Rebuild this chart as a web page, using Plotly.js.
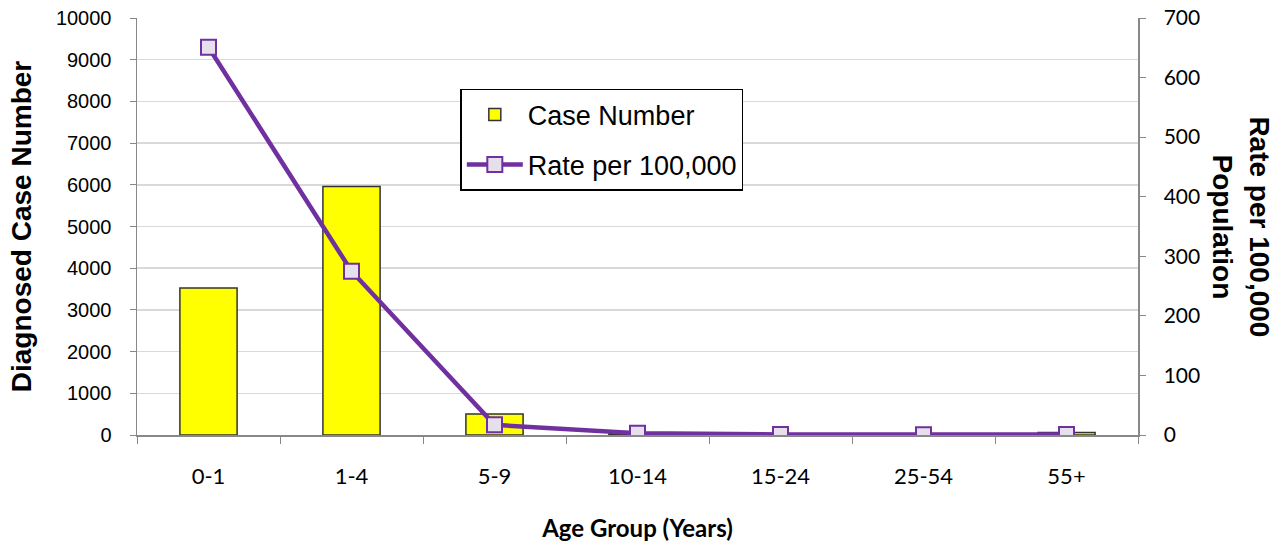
<!DOCTYPE html>
<html>
<head>
<meta charset="utf-8">
<script src="https://cdn.plot.ly/plotly-3.0.1.min.js"></script>
<style>body{margin:0;padding:0;background:#fff}#chart{width:1284px;height:546px}</style>
</head>
<body>
<div id="chart"></div>
<script>
var categories = ["0-1", "1-4", "5-9", "10-14", "15-24", "25-54", "55+"];
var caseNumbers = [3525, 5960, 505, 30, 20, 30, 60];
var ratePer100k = [651, 275, 17, 3, 1, 0.5, 1];
var leftTicks = [0, 1000, 2000, 3000, 4000, 5000, 6000, 7000, 8000, 9000, 10000];
var leftTickText = ["0", "1000", "2000", "3000", "4000", "5000", "6000", "7000", "8000", "9000", "10000"];
var rightTicks = [0, 100, 200, 300, 400, 500, 600, 700];

var traces = [
  {
    type: "bar", name: "Case Number", x: categories, y: caseNumbers,
    marker: {color: "#FFFF00", line: {color: "#333333", width: 1.5}},
    width: 0.4, yaxis: "y", legendgroup: "a"
  },
  {
    type: "scatter", mode: "lines+markers", name: "Rate per 100,000",
    x: categories, y: ratePer100k, yaxis: "y2", legendgroup: "b",
    line: {color: "#7030A0", width: 4.5},
    marker: {symbol: "square", size: 15, color: "#E6E0EC", line: {color: "#7030A0", width: 2}}
  }
];

var layout = {
  width: 1284, height: 546,
  margin: {l: 137, r: 146, t: 18, b: 111},
  paper_bgcolor: "#fff", plot_bgcolor: "#fff",
  showlegend: true,
  legend: {
    x: 0.323, y: 0.83, xanchor: "left", yanchor: "top",
    bordercolor: "#000", borderwidth: 1.5, bgcolor: "#fff",
    font: {family: "Liberation Sans, Arial, sans-serif", size: 27, color: "#000"},
    itemwidth: 56, tracegroupgap: 12
  },
  xaxis: {
    type: "category", tickson: "boundaries", ticks: "outside", ticklen: 7, tickcolor: "#888",
    showline: true, linecolor: "#888", linewidth: 1.5, showgrid: false,
    tickfont: {family: "Lato, Open Sans, sans-serif", size: 22, color: "#000"},
    ticklabelstandoff: 21,
    title: {text: "<b>Age Group (Years)</b>", font: {family: "Lato, Open Sans, sans-serif", size: 24, color: "#000"}, standoff: 32}
  },
  yaxis: {
    range: [0, 10000], tickvals: leftTicks, ticktext: leftTickText, ticks: "outside", ticklen: 6, tickcolor: "#888",
    showline: true, linecolor: "#888", linewidth: 1.5,
    showgrid: true, gridcolor: "#D9D9D9", gridwidth: 1.5, zeroline: false,
    tickfont: {family: "Liberation Sans, Arial, sans-serif", size: 20, color: "#000"},
    ticklabelstandoff: 14,
    title: {text: "<b>Diagnosed Case Number</b>", font: {family: "Liberation Sans, Arial, sans-serif", size: 28, color: "#000"}, standoff: 16}
  },
  yaxis2: {
    overlaying: "y", side: "right", range: [0, 700], tickvals: rightTicks,
    ticks: "outside", ticklen: 6, tickcolor: "#888",
    showline: true, linecolor: "#888", linewidth: 1.5, showgrid: false, zeroline: false,
    tickfont: {family: "Lato, Open Sans, sans-serif", size: 21, color: "#000"},
    ticklabelstandoff: 14
  },
  annotations: [{
    xref: "paper", yref: "paper", x: 1.103, y: 0.5, xanchor: "center", yanchor: "middle",
    text: "<b>Rate per 100,000<br>Population</b>", textangle: 90, showarrow: false,
    font: {family: "Liberation Sans, Arial, sans-serif", size: 28, color: "#000"}
  }]
};

Plotly.newPlot("chart", traces, layout, {staticPlot: true, displayModeBar: false});
</script>
</body>
</html>
